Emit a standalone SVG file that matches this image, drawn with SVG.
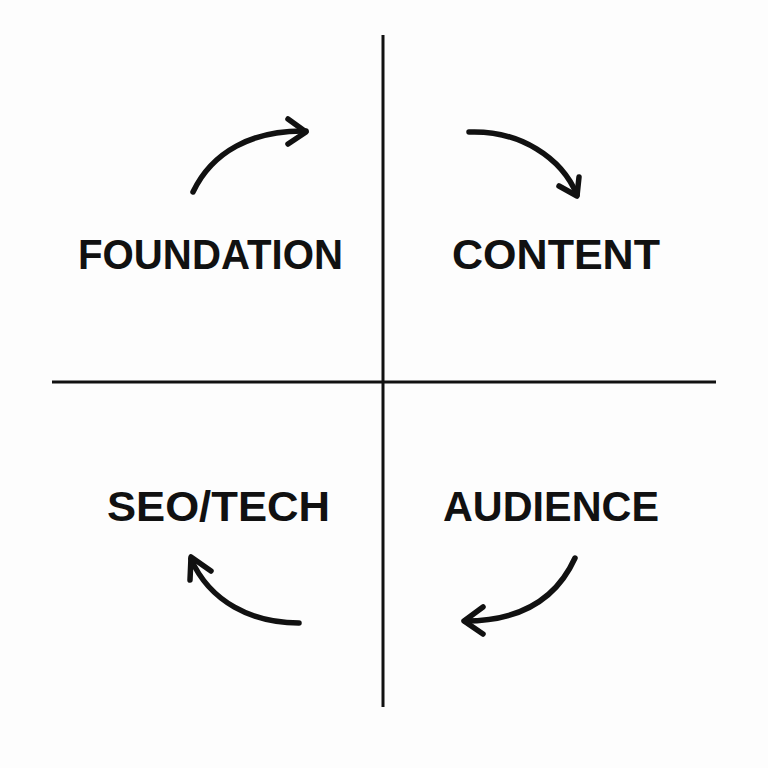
<svg xmlns="http://www.w3.org/2000/svg" width="768" height="768" viewBox="0 0 768 768">
<style>
.axis{stroke:#111;stroke-width:3;fill:none}
.arr{stroke:#111;stroke-width:5.5;fill:none;stroke-linecap:round;stroke-linejoin:round}
.lbl{font-family:"Liberation Sans",Arial,sans-serif;font-weight:bold;font-size:42px;fill:#111;text-anchor:middle}
</style>
<rect width="768" height="768" fill="#fdfdfd"/>
<g id="axes">
<line class="axis" x1="383" y1="35" x2="383" y2="707"/>
<line class="axis" x1="52" y1="382" x2="716" y2="382"/>
</g>
<g id="foundation"><text class="lbl" x="210.5" y="268.5" textLength="265" lengthAdjust="spacingAndGlyphs">FOUNDATION</text></g>
<g id="content"><text class="lbl" x="556" y="268.5" textLength="208" lengthAdjust="spacingAndGlyphs">CONTENT</text></g>
<g id="seotech"><text class="lbl" x="218.5" y="520.5" textLength="223" lengthAdjust="spacingAndGlyphs">SEO/TECH</text></g>
<g id="audience"><text class="lbl" x="551" y="520.5" textLength="216" lengthAdjust="spacingAndGlyphs">AUDIENCE</text></g>
<g id="connectors">
<path class="arr" d="M193,192 C212,152 252,130 306,131"/>
<polyline class="arr" points="288,119 306,132 288,144"/>
<path class="arr" d="M469,132 C520,130 562,158 577,195"/>
<polyline class="arr" points="559,186 577,196 579,177"/>
<path class="arr" d="M299,623 C252,623 210,602 191,559"/>
<polyline class="arr" points="211,571 191,557 190,580"/>
<path class="arr" d="M575,558 C556,600 520,621 465,621"/>
<polyline class="arr" points="483,607 464,621 483,634"/>
</g>
</svg>
